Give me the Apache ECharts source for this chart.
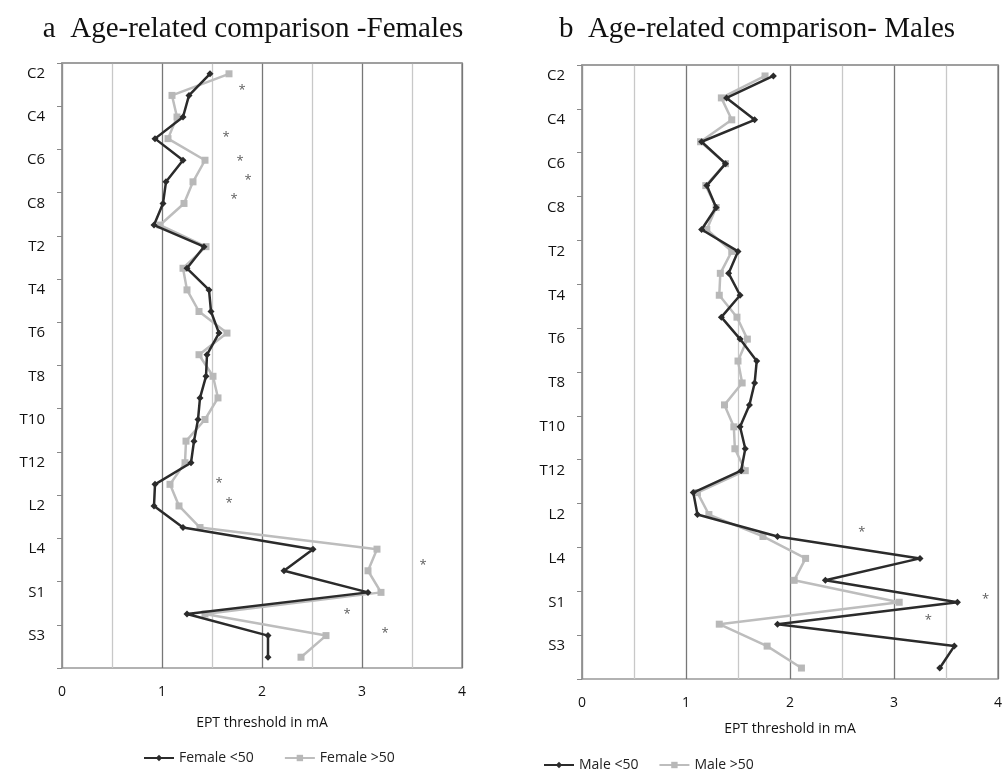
<!DOCTYPE html>
<html>
<head>
<meta charset="utf-8">
<script src="https://cdn.jsdelivr.net/npm/echarts@6/dist/echarts.min.js"></script>
<style>html,body{margin:0;padding:0;background:#fff}#c{width:1005px;height:772px}</style>
</head>
<body>
<div id="c"></div>
<script>
const levels = ['C2','C3','C4','C5','C6','C7','C8','T1','T2','T3','T4','T5','T6','T7','T8','T9','T10','T11','T12','L1','L2','L3','L4','L5','S1','S2','S3','S4'];
const xTicks = [0, 1, 2, 3, 4];

const femaleUnder50 = [1.48,1.27,1.21,0.93,1.21,1.04,1.01,0.92,1.42,1.25,1.47,1.49,1.57,1.45,1.44,1.38,1.36,1.32,1.29,0.93,0.92,1.21,2.51,2.22,3.06,1.25,2.06,2.06];
const femaleOver50  = [1.67,1.10,1.15,1.06,1.43,1.31,1.22,0.98,1.44,1.21,1.25,1.37,1.65,1.37,1.51,1.56,1.43,1.24,1.23,1.08,1.17,1.38,3.15,3.06,3.19,1.43,2.64,2.39];
const maleUnder50   = [1.84,1.39,1.66,1.15,1.38,1.20,1.29,1.15,1.50,1.41,1.52,1.34,1.52,1.68,1.66,1.61,1.52,1.57,1.53,1.07,1.11,1.88,3.25,2.34,3.61,1.88,3.58,3.44];
const maleOver50    = [1.76,1.34,1.44,1.14,1.38,1.19,1.29,1.20,1.44,1.33,1.32,1.49,1.59,1.50,1.54,1.37,1.46,1.47,1.57,1.11,1.22,1.74,2.15,2.04,3.05,1.32,1.78,2.11];

// significance markers: [EPT value, position in level units from top]
const femaleStars = [[1.80,1.25],[1.64,3.46],[1.78,4.54],[1.86,5.42],[1.72,6.31],[1.57,19.44],[1.67,20.38],[3.61,23.24],[2.85,25.51],[3.23,26.40]];
const maleStars   = [[2.69,21.31],[3.88,24.35],[3.33,25.34]];

const pairs = arr => arr.map((v, i) => [v, levels[i]]);
const labelFont = 'Open Sans';

function xAxisCfg(gi, nameGap) {
  return {
    type: 'value', gridIndex: gi, min: 0, max: 4, interval: 0.5,
    name: 'EPT threshold in mA', nameLocation: 'middle', nameGap: nameGap,
    nameTextStyle: { fontFamily: labelFont, fontSize: 14, color: '#111' },
    axisLine: { show: true, lineStyle: { color: '#999', width: 1.5 } },
    axisTick: { show: false },
    axisLabel: {
      margin: 17, fontFamily: labelFont, fontSize: 14, color: '#111',
      formatter: v => (xTicks.indexOf(v) >= 0 ? String(v) : '')
    },
    splitLine: { show: true, lineStyle: { color: ['#777', '#c8c8c8'], width: 1.3 } }
  };
}
function yCatCfg(gi) {
  return {
    type: 'category', gridIndex: gi, data: levels, inverse: true, boundaryGap: true,
    axisLine: { show: true, lineStyle: { color: '#999', width: 1.5 } },
    axisTick: { show: true, length: 5, lineStyle: { color: '#888' } },
    axisLabel: { interval: 1, margin: 17, fontFamily: labelFont, fontSize: 15, color: '#111' },
    splitLine: { show: false }
  };
}
function yValCfg(gi) {
  return { type: 'value', gridIndex: gi, min: 0, max: levels.length, inverse: true, show: false, splitLine: { show: false } };
}
function lineSeries(name, data, xi, yi, dark) {
  return {
    name: name, type: 'line', xAxisIndex: xi, yAxisIndex: yi, data: pairs(data),
    symbol: dark ? 'diamond' : 'rect', symbolSize: 7,
    lineStyle: { color: dark ? '#2b2b2b' : '#bdbdbd', width: 2.5 },
    itemStyle: { color: dark ? '#2b2b2b' : '#b8b8b8' },
    emphasis: { disabled: true }, animation: false, z: dark ? 4 : 3
  };
}
function starSeries(data, xi, yi) {
  return {
    type: 'scatter', xAxisIndex: xi, yAxisIndex: yi, data: data,
    symbolSize: 1, itemStyle: { color: 'rgba(0,0,0,0)' },
    label: { show: true, position: 'inside', formatter: '*', fontFamily: labelFont, fontSize: 13, color: '#333' },
    emphasis: { disabled: true }, animation: false, silent: true
  };
}

const chart = echarts.init(document.getElementById('c'));
chart.setOption({
  backgroundColor: '#fff',
  animation: false,
  title: [
    { text: 'a  Age-related comparison -Females', left: 248, top: 10, textAlign: 'center',
      textStyle: { fontFamily: 'Liberation Serif', fontWeight: 'normal', fontSize: 29, color: '#111' } },
    { text: 'b  Age-related comparison- Males', left: 752, top: 10, textAlign: 'center',
      textStyle: { fontFamily: 'Liberation Serif', fontWeight: 'normal', fontSize: 29, color: '#111' } }
  ],
  legend: [
    { data: ['Female <50', 'Female >50'], left: 138, top: 746, itemGap: 30, itemWidth: 30, itemHeight: 8,
      textStyle: { fontFamily: labelFont, fontSize: 14, color: '#222' } },
    { data: ['Male <50', 'Male >50'], left: 538, top: 753, itemGap: 20, itemWidth: 30, itemHeight: 8,
      textStyle: { fontFamily: labelFont, fontSize: 14, color: '#222' } }
  ],
  grid: [
    { left: 62, top: 63, width: 400, height: 605, show: true, borderColor: '#999', borderWidth: 1.5, containLabel: false },
    { left: 582, top: 65, width: 420, height: 614, show: true, borderColor: '#999', borderWidth: 1.5, containLabel: false }
  ],
  xAxis: [xAxisCfg(0, 48), xAxisCfg(1, 43)],
  yAxis: [yCatCfg(0), yValCfg(0), yCatCfg(1), yValCfg(1)],
  series: [
    lineSeries('Female <50', femaleUnder50, 0, 0, true),
    lineSeries('Female >50', femaleOver50, 0, 0, false),
    starSeries(femaleStars, 0, 1),
    lineSeries('Male <50', maleUnder50, 1, 2, true),
    lineSeries('Male >50', maleOver50, 1, 2, false),
    starSeries(maleStars, 1, 3)
  ]
});
</script>
</body>
</html>
